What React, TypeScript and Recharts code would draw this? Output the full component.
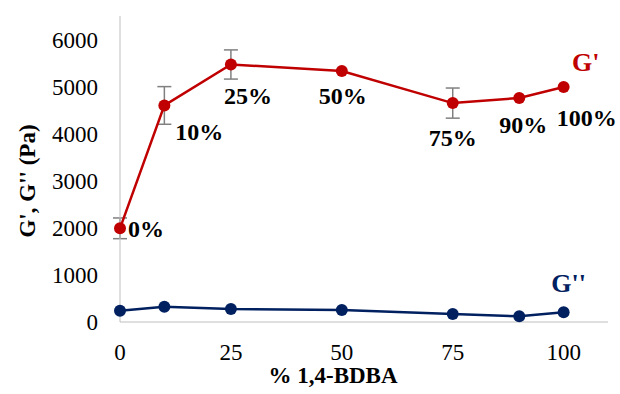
import { LineChart, Line, XAxis, YAxis, ErrorBar } from 'recharts';

const bdbaPct = [0, 10, 25, 50, 75, 90, 100];
const gPrime = [1990, 4600, 5470, 5330, 4650, 4760, 4990];
const gPrimeErr = [220, 400, 310, 0, 320, 0, 0];
const gDoublePrime = [240, 325, 275, 254, 170, 120, 205];
const pointLabels = ['0%', '10%', '25%', '50%', '75%', '90%', '100%'];
const xTicks = [0, 25, 50, 75, 100];
const yTicks = [0, 1000, 2000, 3000, 4000, 5000, 6000];

const data = bdbaPct.map((x, i) => ({
  x,
  gp: gPrime[i],
  gpErr: gPrimeErr[i],
  gpp: gDoublePrime[i],
}));

const RED = '#c00000';
const NAVY = '#002060';
const FONT = "'Times New Roman', 'Liberation Serif', 'DejaVu Serif', serif";

// label offsets from each G' point
const labelOffsets = [
  { dx: 8, dy: 0, anchor: 'start' },
  { dx: 11, dy: 26, anchor: 'start' },
  { dx: 17, dy: 31, anchor: 'middle' },
  { dx: 1, dy: 25, anchor: 'middle' },
  { dx: 0, dy: 35, anchor: 'middle' },
  { dx: 4, dy: 27, anchor: 'middle' },
  { dx: 23, dy: 31, anchor: 'middle' },
];

const GPrimeLabel = (props: any) => {
  const { x, y, index } = props;
  const off = labelOffsets[index] || { dx: 0, dy: 25, anchor: 'middle' };
  return (
    <g>
      <text
        x={x + off.dx}
        y={y + off.dy}
        dy="0.35em"
        textAnchor={off.anchor}
        fontFamily={FONT}
        fontWeight="bold"
        fontSize={24}
        fill="#000"
      >
        {pointLabels[index]}
      </text>
      {index === data.length - 1 && (
        <text x={x + 22} y={y - 25} dy="0.35em" textAnchor="middle" fontFamily={FONT} fontWeight="bold" fontSize={26} fill={RED}>
          G'
        </text>
      )}
    </g>
  );
};

const GDoubleLabel = (props: any) => {
  const { x, y, index } = props;
  if (index !== data.length - 1) return null;
  return (
    <text x={x + 5} y={y - 29} dy="0.35em" textAnchor="middle" fontFamily={FONT} fontWeight="bold" fontSize={26} fill={NAVY}>
      G''
    </text>
  );
};

const App = () => {
  return (
    <div style={{ position: 'absolute', left: 0, top: 0, background: '#fff' }}>
      <LineChart width={620} height={394} data={data} margin={{ top: 16, right: 12, bottom: 0, left: 0 }}>
        <XAxis
          dataKey="x"
          type="number"
          domain={[0, 110]}
          ticks={xTicks}
          tickLine={false}
          tickSize={0}
          tickMargin={22}
          height={72}
          stroke="#bfbfbf"
          tick={{ fill: '#000', fontSize: 23, fontFamily: FONT }}
          label={{
            content: () => (
              <text x={333} y={383} textAnchor="middle" fontFamily={FONT} fontWeight="bold" fontSize={23} fill="#000">
                % 1,4-BDBA
              </text>
            ),
          }}
        />
        <YAxis
          type="number"
          domain={[0, 6500]}
          ticks={yTicks}
          tickLine={false}
          tickSize={0}
          tickMargin={22}
          width={120}
          stroke="#bfbfbf"
          tick={{ fill: '#000', fontSize: 23, fontFamily: FONT }}
          label={{
            content: () => (
              <text
                x={27}
                y={181}
                dy="0.35em"
                transform="rotate(-90 27 181)"
                textAnchor="middle"
                fontFamily={FONT}
                fontWeight="bold"
                fontSize={23}
                fill="#000"
              >
                G', G'' (Pa)
              </text>
            ),
          }}
        />
        <Line
          dataKey="gpp"
          stroke={NAVY}
          strokeWidth={2.5}
          dot={{ r: 6, fill: NAVY, stroke: NAVY, strokeWidth: 0 }}
          label={<GDoubleLabel />}
          isAnimationActive={false}
        />
        <Line
          dataKey="gp"
          stroke={RED}
          strokeWidth={2.5}
          dot={{ r: 6, fill: RED, stroke: RED, strokeWidth: 0 }}
          label={<GPrimeLabel />}
          isAnimationActive={false}
        >
          <ErrorBar dataKey="gpErr" direction="y" width={7} stroke="#808080" strokeWidth={1.5} />
        </Line>
      </LineChart>
    </div>
  );
};

export default App;
